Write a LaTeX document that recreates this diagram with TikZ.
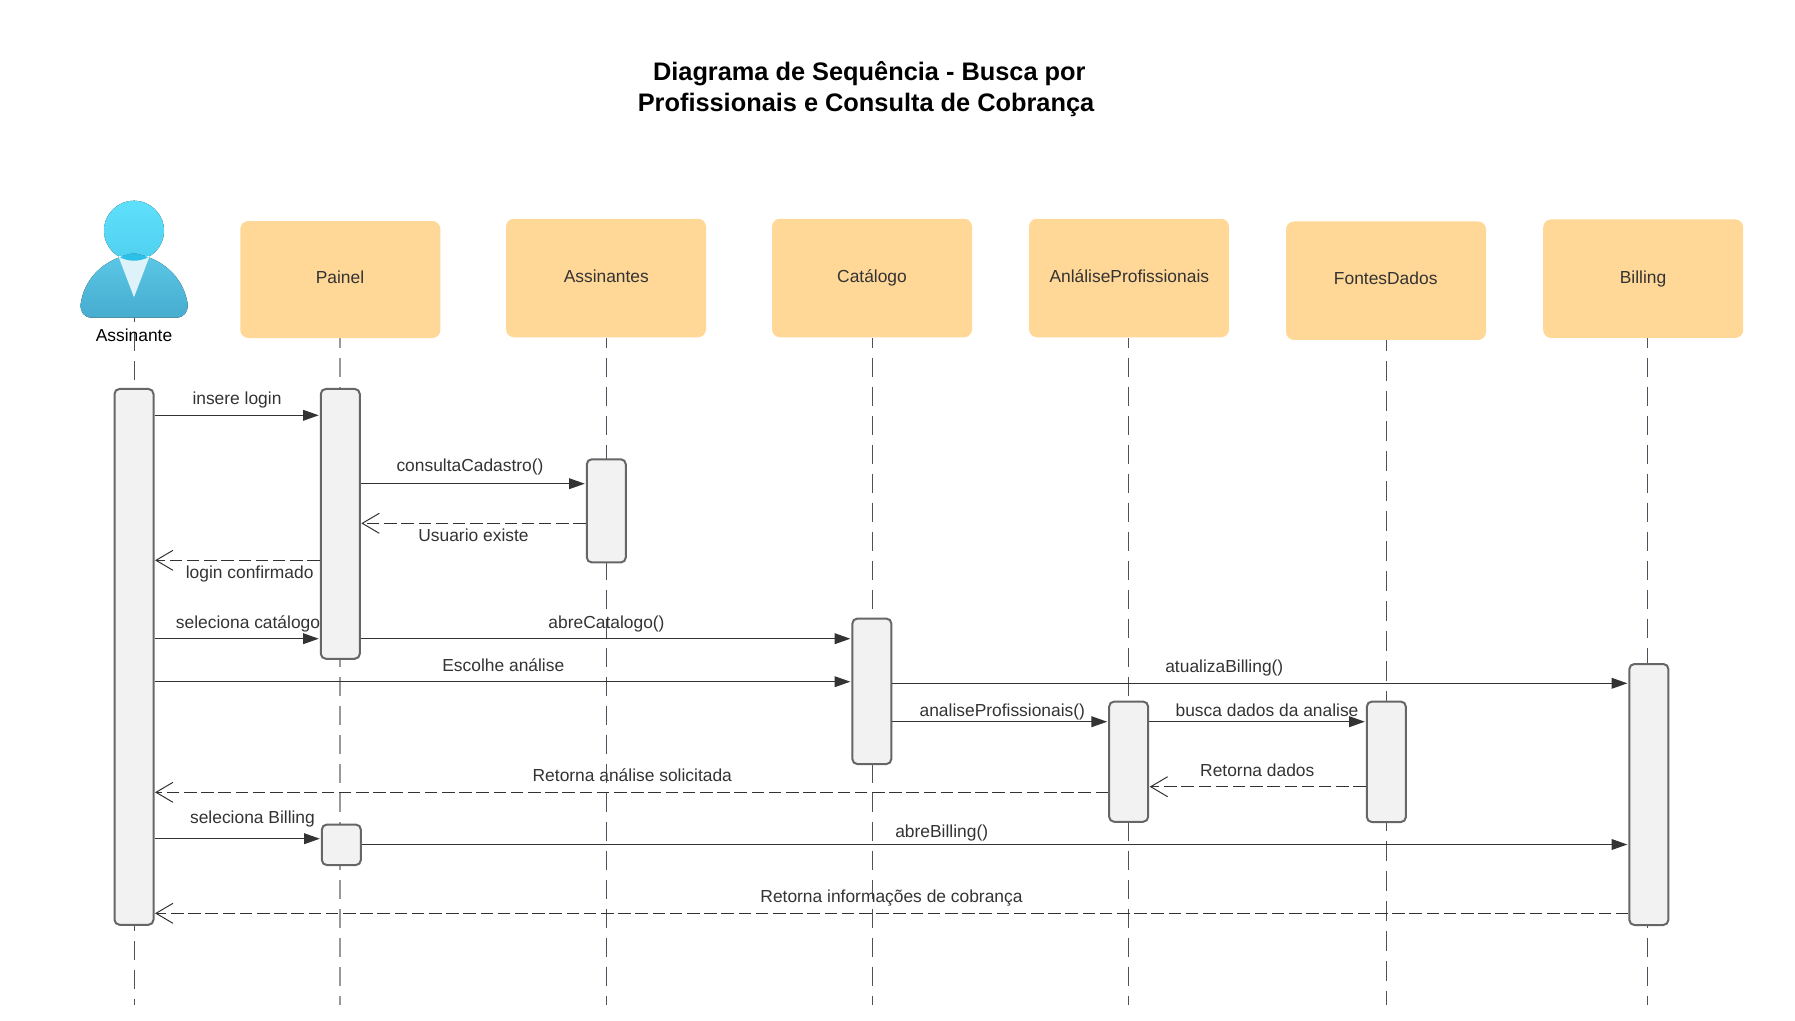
\documentclass[tikz,border=0pt]{standalone}
\usepackage{fontspec}
\setmainfont{Liberation Sans}
\usetikzlibrary{arrows.meta}
\definecolor{hdr}{HTML}{FFD797}
\definecolor{actfill}{HTML}{F2F2F2}
\definecolor{actline}{HTML}{666666}
\definecolor{ink}{HTML}{333333}
\definecolor{lifedark}{HTML}{4C535D}
\definecolor{lifegray}{HTML}{999999}
\tikzset{
  x=1pt,y=-1pt,
  header/.style={fill=hdr,rounded corners=8pt,minimum width=200pt,minimum height=118.5pt,inner sep=0pt,outer sep=0pt},
  hdrtext/.style={font=\fontsize{17.4}{20}\selectfont,text=ink,inner sep=0pt,text height=13pt,text depth=3.6pt},
  msglabel/.style={font=\fontsize{17.4}{20}\selectfont,text=ink,inner sep=0pt,text height=13pt,text depth=3.6pt},
  act/.style={draw=actline,fill=actfill,line width=2pt,rounded corners=5pt,minimum width=39pt,inner sep=0pt},
  lifeline/.style={draw=lifedark,line width=1.2pt,dash pattern=on 19pt off 10pt,dash phase=9.3pt},
  syncmsg/.style={draw=ink,line width=1.3pt,shorten >=1pt,-{Triangle[length=15.7pt,width=10.7pt,fill=ink]}},
  retmsg/.style={draw=ink,line width=1.3pt,dash pattern=on 12.5pt off 4.7pt,shorten >=0.5pt,-{Straight Barb[length=17pt,width=20pt,line width=1pt]}},
}
\begin{document}
\begin{tikzpicture}
\useasboundingbox (0,0) rectangle (1795,1020);
% lifeline ends
\coordinate (lAT) at (134.5,318); \coordinate (lAB) at (134.5,1005);
\coordinate (lPT) at (340,338);   \coordinate (lPB) at (340,1005);
\coordinate (lST) at (606.3,338); \coordinate (lSB) at (606.3,1005);
\coordinate (lCT) at (872.3,338); \coordinate (lCB) at (872.3,1005);
\coordinate (lRT) at (1128.3,338);\coordinate (lRB) at (1128.3,1005);
\coordinate (lFT) at (1386.7,340);\coordinate (lFB) at (1386.7,1005);
\coordinate (lBT) at (1647.7,338);\coordinate (lBB) at (1647.7,1005);
\draw[lifeline,dash phase=15pt] (lAT) -- (lAB);
\draw[lifeline,draw=lifegray,line width=2pt] (lPT) -- (lPB);
\draw[lifeline] (lST) -- (lSB);
\draw[lifeline] (lCT) -- (lCB);
\draw[lifeline] (lRT) -- (lRB);
\draw[lifeline,dash pattern=on 20pt off 10pt,dash phase=9pt] (lFT) -- (lFB);
\draw[lifeline] (lBT) -- (lBB);
% title
\node[font=\bfseries\fontsize{25.35}{30.5}\selectfont,align=center,inner sep=0pt,text=black] (title) at (866,89.3)
  {\hspace*{6.6pt}Diagrama de Sequência - Busca por\\Profissionais e Consulta de Cobrança};
% actor
\fill[top color={rgb,255:red,94;green,224;blue,251},bottom color={rgb,255:red,80;green,208;blue,240}] (134,230.7) circle (30);
\def\bodypath{(80.7,304) .. controls (84,280) and (102,259) .. (134,253.3) .. controls (166,259) and (184,280) .. (187.7,304) .. controls (188,312) and (184,317.7) .. (176,317.7) -- (92,317.7) .. controls (84,317.7) and (80,312) .. (80.7,304) -- cycle}
\fill[top color={rgb,255:red,92;green,200;blue,230},bottom color={rgb,255:red,70;green,172;blue,208}] \bodypath;
\fill[color={rgb,255:red,222;green,242;blue,249}] (118.3,256) -- (149.7,256) -- (134,297.3) -- cycle;
\begin{scope}
  \clip (134,230.7) circle (30);
  \fill[color={rgb,255:red,44;green,192;blue,232}] \bodypath;
\end{scope}
\node[font=\fontsize{17.4}{20}\selectfont,text=black,inner sep=0pt,text height=13pt,text depth=3.6pt] (actorlabel) at (134,337) {Assinante};
% headers
\node[header,minimum height=117pt] (hP) at (340.3,279.5) {};
\node[hdrtext] (tP) at (340,279) {Painel};
\node[header] (hS) at (606,278) {};
\node[hdrtext] (tS) at (606.3,277.7) {Assinantes};
\node[header] (hC) at (872,278) {};
\node[hdrtext] (tC) at (872,277.7) {Catálogo};
\node[header] (hR) at (1129,278) {};
\node[hdrtext] (tR) at (1129.3,277.7) {AnláliseProfissionais};
\node[header] (hF) at (1386,280.7) {};
\node[hdrtext] (tF) at (1385.7,280) {FontesDados};
\node[header] (hB) at (1643.2,278.7) {};
\node[hdrtext] (tB) at (1643,278.7) {Billing};
% activations
\node[act,minimum height=535.8pt] (a0) at (134,656.85) {};
\node[act,minimum height=269.8pt] (p1) at (340.3,523.85) {};
\node[act,minimum height=103.2pt] (as) at (606.3,510.85) {};
\node[act,minimum height=145.5pt] (cat) at (871.85,691.3) {};
\node[act,minimum height=120.2pt] (prof) at (1128.65,761.65) {};
\node[act,minimum height=120.5pt] (fnt) at (1386.35,761.8) {};
\node[act,minimum height=261pt] (bil) at (1648.85,794.5) {};
\node[act,minimum height=40.5pt] (p2) at (341.35,844.8) {};
% messages
\draw[syncmsg] (a0.east |- 0,415.3) -- (p1.west |- 0,415.3);
\node[msglabel] (m1) at (237,400.2) {insere login};
\draw[syncmsg] (p1.east |- 0,483.7) -- (as.west |- 0,483.7);
\node[msglabel] (m2) at (470,466.5) {consultaCadastro()};
\draw[retmsg] (as.west |- 0,523.3) -- (p1.east |- 0,523.3);
\node[msglabel] (m3) at (473.5,536.8) {Usuario existe};
\draw[retmsg] (p1.west |- 0,560.3) -- (a0.east |- 0,560.3);
\node[msglabel] (m4) at (249.7,574) {login confirmado};
\draw[syncmsg] (a0.east |- 0,638.7) -- (p1.west |- 0,638.7);
\node[msglabel] (m5) at (248,623.8) {seleciona catálogo};
\draw[syncmsg] (p1.east |- 0,638.7) -- (cat.west |- 0,638.7);
\node[msglabel] (m6) at (606.5,623.8) {abreCatalogo()};
\draw[syncmsg] (a0.east |- 0,681.7) -- (cat.west |- 0,681.7);
\node[msglabel] (m7) at (503.3,666.8) {Escolhe análise};
\draw[syncmsg] (cat.east |- 0,683.3) -- (bil.west |- 0,683.3);
\node[msglabel] (m8) at (1224.3,668.2) {atualizaBilling()};
\draw[syncmsg] (cat.east |- 0,721.7) -- (prof.west |- 0,721.7);
\node[msglabel] (m9) at (1002.3,711.5) {analiseProfissionais()};
\draw[syncmsg] (prof.east |- 0,721.7) -- (fnt.west |- 0,721.7);
\node[msglabel] (m10) at (1267,711.5) {busca dados da analise};
\draw[retmsg] (fnt.west |- 0,786.7) -- (prof.east |- 0,786.7);
\node[msglabel] (m11) at (1257.3,771.8) {Retorna dados};
\draw[retmsg] (prof.west |- 0,792.3) -- (a0.east |- 0,792.3);
\node[msglabel] (m12) at (632.3,776.8) {Retorna análise solicitada};
\draw[syncmsg] (a0.east |- 0,838.7) -- (p2.west |- 0,838.7);
\node[msglabel] (m13) at (252.5,818.5) {seleciona Billing};
\draw[syncmsg] (p2.east |- 0,844.5) -- (bil.west |- 0,844.5);
\node[msglabel] (m14) at (941.7,832.3) {abreBilling()};
\draw[retmsg] (bil.west |- 0,913.3) -- (a0.east |- 0,913.3);
\node[msglabel] (m15) at (891.5,898) {Retorna informações de cobrança};
\end{tikzpicture}
\end{document}
